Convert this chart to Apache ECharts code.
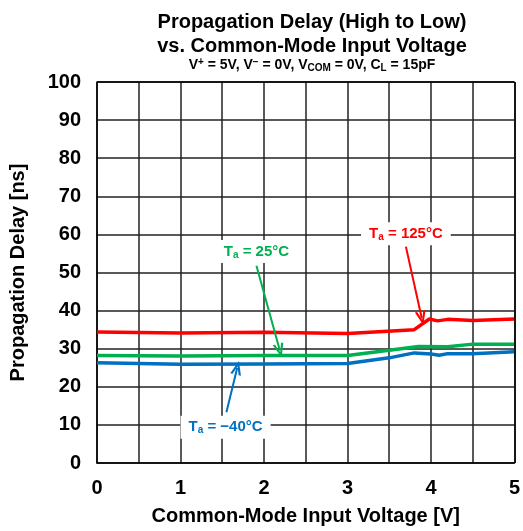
<!DOCTYPE html>
<html><head><meta charset="utf-8">
<script src="https://cdn.jsdelivr.net/npm/echarts@6/dist/echarts.min.js"></script>
<style>html,body{margin:0;padding:0;background:#fff}#c{width:523px;height:531px}</style>
</head><body><div id="c"></div>
<script>
// Data (Common-Mode Input Voltage [V], Propagation Delay [ns])
const redX   = [0, 1, 2, 3, 3.8, 3.98, 4.08, 4.2, 4.5, 5];
const redY   = [34.4, 34.1, 34.3, 34.0, 35.0, 37.8, 37.3, 37.7, 37.4, 37.8];
const greenX = [0, 1, 2, 3, 3.5, 3.85, 4.2, 4.5, 5];
const greenY = [28.2, 28.1, 28.2, 28.2, 29.6, 30.6, 30.5, 31.2, 31.2];
const blueX  = [0, 1, 2, 3, 3.5, 3.8, 4.0, 4.1, 4.2, 4.5, 5];
const blueY  = [26.3, 25.9, 26.0, 26.1, 27.6, 28.9, 28.6, 28.3, 28.7, 28.7, 29.2];
const xTicks = [0, 1, 2, 3, 4, 5];
const yTicks = [0, 10, 20, 30, 40, 50, 60, 70, 80, 90, 100];

const FONT = '"Liberation Sans", Arial, sans-serif';
const zip = (xs, ys) => xs.map((x, i) => [x, ys[i]]);
const CHEVRON = 'path://M0,13 L5,0 L10,13 L7.8,13 L5,5 L2.2,13 Z';

const chart = echarts.init(document.getElementById('c'), null, {renderer: 'canvas'});

function annot(color, labelPos, arrowFrom, arrowTo, post) {
  return {
    markLine: {
      silent: true,
      symbol: ['none', CHEVRON],
      symbolSize: [11, 14],
      lineStyle: {color: color, width: 2, type: 'solid'},
      itemStyle: {color: color},
      label: {show: false},
      data: [[{coord: arrowFrom}, {coord: arrowTo}]],
      animation: false
    },
    markPoint: {
      silent: true,
      symbol: 'rect',
      symbolSize: 0,
      data: [{coord: labelPos}],
      label: {
        show: true,
        position: 'inside',
        formatter: '{m|T}{s|a}{m| = ' + post + '}',
        backgroundColor: '#fff',
        padding: [3, 8, 3, 8],
        rich: {
          m: {fontFamily: FONT, fontWeight: 'bold', fontSize: 15, color: color},
          s: {fontFamily: FONT, fontWeight: 'bold', fontSize: 10, color: color, padding: [7, 0, 0, 0]}
        }
      },
      animation: false
    }
  };
}

const base = (name, xs, ys, color) => ({
  type: 'line', name: name, data: zip(xs, ys), showSymbol: false, smooth: false,
  lineStyle: {color: color, width: 3.5}, itemStyle: {color: color}, z: 3, animation: false
});

chart.setOption({
  backgroundColor: '#fff',
  animation: false,
  title: [
    {text: 'Propagation Delay (High to Low)\nvs. Common-Mode Input Voltage', left: 307, top: 5, textAlign: 'center',
     textStyle: {fontFamily: FONT, fontWeight: 'bold', fontSize: 20, lineHeight: 24, color: '#000'}},
    {text: '{n|V}{sp|+}{n| = 5V, V}{sp|\u2212}{n| = 0V, V}{sb|COM}{n| = 0V, C}{sb|L}{n| = 15pF}', left: 307, top: 52, textAlign: 'center',
     textStyle: {rich: {
       n: {fontFamily: FONT, fontWeight: 'bold', fontSize: 14, color: '#000'},
       sp: {fontFamily: FONT, fontWeight: 'bold', fontSize: 10, color: '#000', padding: [0, 0, 6, 0]},
       sb: {fontFamily: FONT, fontWeight: 'bold', fontSize: 10, color: '#000', padding: [6, 0, 0, 0]}
     }}}
  ],
  grid: {left: 96, right: 5, top: 82, bottom: 65, containLabel: false},
  xAxis: {
    type: 'value', min: 0, max: 5, interval: 0.5,
    name: 'Common-Mode Input Voltage [V]', nameLocation: 'middle', nameGap: 43,
    nameTextStyle: {fontFamily: FONT, fontWeight: 'bold', fontSize: 20, color: '#000'},
    axisLine: {show: true, lineStyle: {color: '#000', width: 1.5}},
    axisTick: {show: false},
    splitLine: {show: true, lineStyle: {color: '#222', width: 1.5}},
    axisLabel: {fontFamily: FONT, fontWeight: 'bold', fontSize: 20, color: '#000', margin: 15,
      formatter: v => xTicks.includes(v) ? String(v) : ''}
  },
  yAxis: {
    type: 'value', min: 0, max: 100, interval: 10,
    name: 'Propagation Delay [ns]', nameLocation: 'middle', nameGap: 69, nameRotate: 90,
    nameTextStyle: {fontFamily: FONT, fontWeight: 'bold', fontSize: 20, color: '#000'},
    axisLine: {show: true, lineStyle: {color: '#000', width: 1.5}},
    axisTick: {show: false},
    splitLine: {show: true, lineStyle: {color: '#222', width: 1.5}},
    axisLabel: {fontFamily: FONT, fontWeight: 'bold', fontSize: 20, color: '#000', margin: 16,
      formatter: v => yTicks.includes(v) ? String(v) : ''}
  },
  series: [
    {type: 'line', data: [], markLine: {silent: true, symbol: 'none', label: {show: false},
      lineStyle: {color: '#000', width: 1.5, type: 'solid'},
      data: [[{coord: [5, 0]}, {coord: [5, 100]}], [{coord: [0, 100]}, {coord: [5, 100]}]], animation: false}},
    Object.assign(base('Ta = 125°C', redX, redY, '#FF0000'),
      annot('#FF0000', [3.7, 60.2], [3.70, 56.8], [3.89, 38.0], '125°C')),
    Object.assign(base('Ta = 25°C', greenX, greenY, '#00B050'),
      annot('#00B050', [1.91, 55.5], [1.91, 51.8], [2.19, 29.5], '25°C')),
    Object.assign(base('Ta = -40°C', blueX, blueY, '#0070C0'),
      annot('#0070C0', [1.54, 9.4], [1.55, 13.3], [1.68, 25.0], '\u221240°C'))
  ]
});
</script>
</body></html>
